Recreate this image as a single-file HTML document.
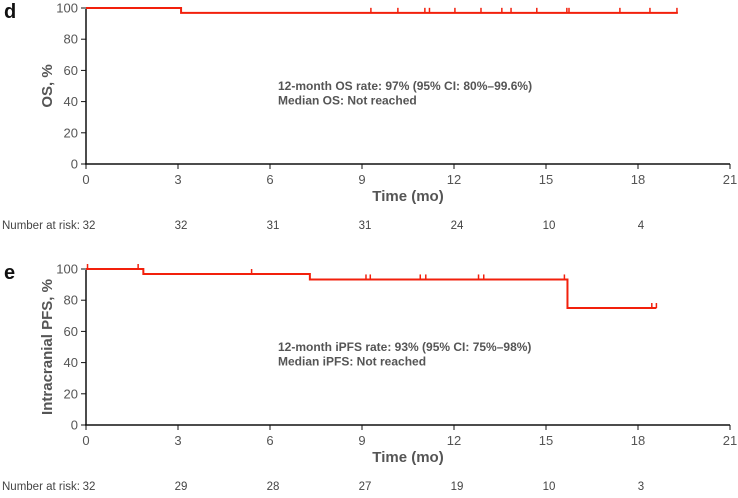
<!DOCTYPE html>
<html><head><meta charset="utf-8"><style>
body{margin:0;background:#fff;width:738px;height:493px;overflow:hidden}
svg{font-family:"Liberation Sans",Arial,sans-serif}
.tk{font-size:13px;fill:#555}
.ti{font-size:15px;font-weight:bold;fill:#555}
.an{font-size:12px;font-weight:bold;fill:#555}
.nr{font-size:11.5px;fill:#444}
</style></head><body>
<svg id="c" width="738" height="493"></svg>
<script>
const xTicks=[0,3,6,9,12,15,18,21];
const yTicks=[0,20,40,60,80,100];
const osTimes=[0,3.1,19.3];
const osSurv=[100,96.9,96.9];
const osCensor=[9.29,10.17,11.05,11.2,12.03,12.88,13.56,13.86,14.7,15.68,15.75,17.41,18.39,19.27];
const osRisk=[32,32,31,31,24,10,4];
const pfsTimes=[0,1.87,7.3,15.7,18.6];
const pfsSurv=[100,96.8,93.3,75,75];
const pfsCensor=[0.05,1.7,5.4,9.13,9.27,10.9,11.08,12.8,12.97,15.6,18.45,18.6];
const pfsRisk=[32,29,28,27,19,10,3];
const NS="http://www.w3.org/2000/svg";
const svg=document.getElementById('c');
function mk(t,a,txt){const e=document.createElementNS(NS,t);for(const k in a)e.setAttribute(k,a[k]);if(txt!==undefined)e.textContent=txt;svg.appendChild(e);return e;}
function panel(o){
 const x=v=>86+v*(644/21), y=v=>o.y0-(v/100)*156;
 let e=mk('text',{x:4,y:o.y0-146,'font-size':20,'font-weight':'bold',fill:'#111'},o.letter);
 
 
 e=mk('line',{x1:86,y1:y(0),x2:86,y2:y(100)+1,stroke:'#111','stroke-width':1.5});
 
 
 e=mk('line',{x1:85,y1:y(0),x2:730,y2:y(0),stroke:'#111','stroke-width':1.5});
 
 
 yTicks.forEach(t=>{mk('line',{x1:81,x2:86,y1:y(t),y2:y(t),stroke:'#111'});
  e=mk('text',{x:78,y:y(t)+4.5,'text-anchor':'end',class:'tk'},t);
  
  });
 xTicks.forEach(t=>{mk('line',{x1:x(t),x2:x(t),y1:y(0),y2:y(0)+5,stroke:'#111'});
  e=mk('text',{x:x(t),y:y(0)+20,'text-anchor':'middle',class:'tk'},t);
  
  });
 e=mk('text',{x:408,y:y(0)+37,'text-anchor':'middle',class:'ti'},'Time (mo)');
 
 
 e=mk('text',{x:0,y:0,transform:`translate(52,${o.y0-78}) rotate(-90)`,'text-anchor':'middle',class:'ti'},o.ytitle);
 
 
 let d=`M${x(o.t[0])},${y(o.s[0])}`;
 for(let i=1;i<o.t.length;i++){d+=` H${x(o.t[i])} V${y(o.s[i])}`;}
 e=mk('path',{d,fill:'none',stroke:'#f2200c','stroke-width':2});
 
 
 const surv=t=>{let v=o.s[0];for(let i=0;i<o.t.length;i++)if(t>=o.t[i])v=o.s[i];return v;};
 o.c.forEach(t=>{e=mk('line',{x1:x(t),x2:x(t),y1:y(surv(t)),y2:y(surv(t))-5,stroke:'#f2200c','stroke-width':1.5});
  
  });
 o.ann.forEach((a,i)=>{e=mk('text',{x:278,y:o.y0-74+i*14.5,class:'an'},a);
  
  });
 e=mk('text',{x:2,y:o.y0+65,class:'nr'},'Number at risk:');
 
 
 o.r.forEach((r,i)=>{const xx=x(xTicks[i])+3;
  e=mk('text',{x:xx,y:o.y0+65,'text-anchor':'middle',class:'nr'},r);
  
  });
}
panel({y0:164,letter:'d',ytitle:'OS, %',t:osTimes,s:osSurv,c:osCensor,r:osRisk,
 ann:['12-month OS rate: 97% (95% CI: 80%–99.6%)','Median OS: Not reached']});
panel({y0:425,letter:'e',ytitle:'Intracranial PFS, %',t:pfsTimes,s:pfsSurv,c:pfsCensor,r:pfsRisk,
 ann:['12-month iPFS rate: 93% (95% CI: 75%–98%)','Median iPFS: Not reached']});
</script>
</body></html>
